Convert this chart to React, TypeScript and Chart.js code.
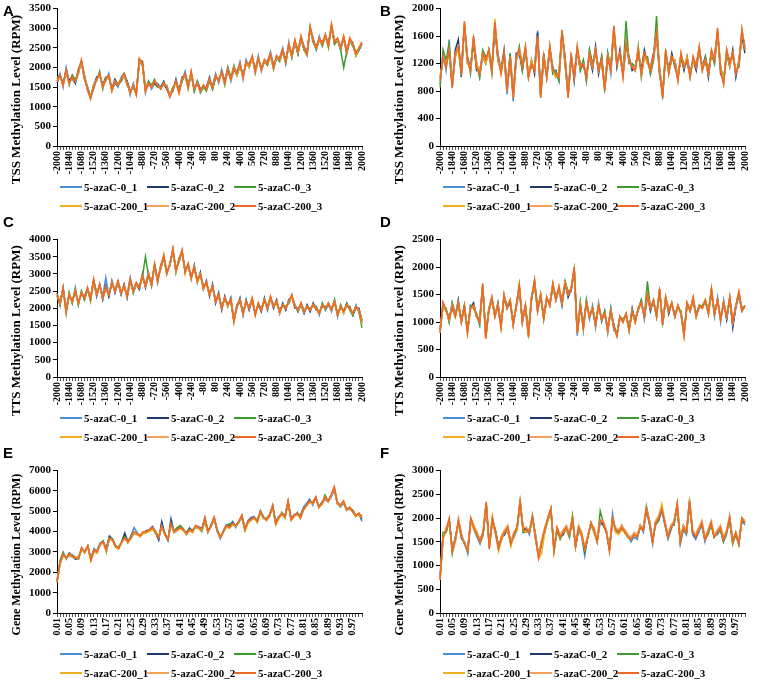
import React, { useEffect, useRef } from "react";
import { Chart, registerables } from "chart.js";

Chart.register(...registerables);

const SERIES_NAMES = ["5-azaC-0_1", "5-azaC-0_2", "5-azaC-0_3", "5-azaC-200_1", "5-azaC-200_2", "5-azaC-200_3"];
const SERIES_COLORS = ["#4A8FD4", "#1F3A70", "#3F9A2E", "#EDB120", "#F5A15A", "#EA6A25"];

const POSITION_LABELS = Array.from({ length: 101 }, (_, i) => String(-2000 + i * 40));
const FRACTION_LABELS = Array.from({ length: 100 }, (_, i) => ((i + 1) / 100).toFixed(2));

// ---------- Panel A: TSS (5-azaC) ----------
const A_0_1 = [1700,1850,1500,2000,1650,1700,1600,1850,2150,1800,
1400,1250,1550,1750,1800,1550,1650,1850,1450,1600,
1500,1750,1850,1650,1300,1600,1350,2200,2150,1350,
1650,1450,1600,1600,1500,1550,1450,1250,1500,1600,
1400,1650,1900,1550,1850,1500,1550,1450,1500,1500,
1650,1550,1850,1600,1950,1650,2000,1650,1950,1900,
2150,1700,2200,2000,2250,1950,2300,1900,2150,2150,
2400,2050,2250,2250,2500,2100,2650,2250,2650,2450,
2750,2550,2400,3000,2750,2450,2800,2550,2800,2600,
3050,2700,2700,2550,2750,2450,2700,2650,2300,2450,
2600];
const A_0_2 = [1600,1800,1600,1900,1650,1800,1600,1950,2150,1700,
1500,1250,1450,1750,1800,1550,1750,1750,1450,1700,
1550,1650,1800,1650,1400,1500,1350,2180,2150,1450,
1550,1550,1600,1500,1500,1650,1450,1300,1400,1700,
1400,1750,1800,1550,1850,1400,1650,1450,1500,1500,
1750,1450,1750,1700,1850,1650,1900,1750,1950,1800,
2050,1800,2100,2100,2250,1950,2200,2000,2150,2150,
2300,2050,2250,2250,2400,2200,2550,2350,2650,2350,
2750,2450,2400,3000,2650,2550,2700,2650,2800,2600,
3050,2600,2700,2450,2750,2350,2700,2550,2400,2450,
2600];
const A_0_3 = [1700,1750,1600,1900,1550,1800,1700,1850,2150,1800,
1500,1250,1550,1650,1900,1450,1750,1750,1450,1600,
1600,1650,1800,1550,1400,1500,1350,2150,2050,1450,
1650,1550,1700,1500,1500,1550,1550,1300,1500,1600,
1400,1650,1800,1450,1850,1400,1650,1350,1500,1400,
1650,1450,1750,1700,1850,1550,2000,1750,2050,1800,
2050,1800,2100,2000,2250,1850,2200,2000,2150,2050,
2300,1950,2250,2150,2400,2100,2550,2250,2650,2350,
2750,2450,2300,3000,2650,2450,2700,2550,2800,2500,
3050,2600,2700,2450,2000,2400,2700,2550,2300,2450,
2600];
const A_200_1 = [1650,1750,1550,1900,1600,1750,1650,1850,2150,1750,
1450,1250,1500,1700,1800,1500,1700,1750,1400,1650,
1550,1700,1800,1600,1350,1550,1300,2150,2100,1400,
1600,1500,1650,1550,1450,1600,1500,1300,1450,1600,
1350,1700,1800,1500,1850,1450,1600,1400,1550,1450,
1700,1500,1800,1650,1850,1600,1900,1700,2000,1800,
2050,1750,2100,2000,2250,1900,2200,1950,2150,2100,
2300,2000,2250,2200,2400,2150,2550,2300,2650,2400,
2750,2500,2350,3000,2700,2500,2700,2600,2800,2550,
3050,2650,2700,2500,2750,2400,2700,2600,2300,2500,
2600];
const A_200_2 = [1650,1800,1550,1900,1600,1750,1650,1900,2150,1750,
1450,1200,1500,1700,1800,1500,1700,1800,1400,1650,
1550,1700,1800,1600,1350,1550,1300,2200,2100,1400,
1600,1500,1650,1550,1450,1600,1500,1250,1450,1650,
1350,1700,1800,1500,1900,1450,1600,1400,1550,1450,
1700,1500,1800,1650,1850,1600,1950,1700,2000,1850,
2100,1750,2150,2050,2250,1900,2250,1950,2200,2100,
2350,2000,2300,2200,2450,2150,2600,2300,2700,2400,
2800,2500,2350,3050,2700,2500,2750,2600,2850,2550,
3100,2650,2750,2500,2800,2400,2750,2600,2350,2500,
2650];
const A_200_3 = [1650,1800,1550,1950,1600,1750,1650,1900,2200,1750,
1450,1200,1500,1700,1850,1500,1700,1800,1400,1650,
1550,1700,1850,1600,1350,1550,1300,2230,2100,1400,
1600,1500,1650,1550,1450,1600,1500,1250,1450,1650,
1350,1700,1850,1500,1900,1450,1600,1400,1550,1450,
1700,1500,1800,1650,1900,1600,1950,1700,2000,1850,
2100,1750,2150,2050,2300,1900,2250,1950,2200,2100,
2350,2000,2300,2200,2450,2150,2600,2300,2700,2400,
2800,2500,2350,3050,2700,2500,2750,2600,2850,2550,
3100,2650,2750,2500,2800,2400,2750,2600,2350,2500,
2650];

// ---------- Panel B: TSS (second set) ----------
const B_0_1 = [900,1350,1100,1550,850,1300,1450,1100,1750,1300,
1150,1550,1200,1000,1300,1300,1350,1150,1700,1250,
1100,1300,750,1350,650,1250,1350,1200,1400,1050,
1150,1150,1680,750,1250,1050,1400,1050,1100,950,
1600,1200,750,1250,1050,1400,1100,1250,950,1400,
1200,1350,1150,1200,850,1350,1050,1650,1250,1300,
1050,1550,1200,1200,1150,1350,1100,1300,1300,1050,
1250,1600,1150,750,1350,1100,1250,1250,1000,1300,
1200,1200,1050,1250,1200,1400,1150,1200,1100,1350,
1200,1650,1150,950,1350,1250,1300,1100,1150,1650,
1450];
const B_0_2 = [1000,1250,1200,1350,900,1400,1550,1000,1750,1200,
1150,1500,1100,1100,1300,1200,1400,1150,1750,1250,
1100,1400,850,1250,750,1350,1350,1100,1400,1000,
1250,1050,1650,750,1350,1000,1400,1150,1000,1050,
1650,1300,750,1350,950,1400,1200,1150,1050,1300,
1100,1450,1050,1300,850,1250,1150,1700,1150,1400,
1050,1450,1300,1100,1150,1350,1100,1400,1200,1150,
1350,1600,1050,750,1350,1100,1350,1150,1000,1300,
1100,1300,1050,1250,1100,1400,1150,1300,1000,1350,
1300,1650,1050,950,1350,1150,1400,1000,1250,1600,
1350];
const B_0_3 = [850,1400,1250,1480,900,1300,1400,1100,1750,1300,
1050,1550,1200,1000,1400,1300,1350,1050,1750,1350,
1100,1300,850,1350,750,1250,1450,1100,1400,1050,
1150,1150,1550,750,1250,1050,1450,1050,1100,950,
1650,1200,750,1250,1050,1400,1100,1250,950,1400,
1200,1350,1100,1300,850,1350,1150,1700,1250,1300,
1050,1820,1200,1200,1100,1450,1000,1300,1300,1050,
1250,1890,1050,750,1350,1100,1250,1250,1000,1300,
1200,1200,1050,1250,1200,1400,1100,1300,1100,1350,
1200,1650,1150,950,1350,1250,1300,1100,1150,1650,
1400];
const B_200_1 = [1000,1250,1200,1350,900,1300,1400,1100,1750,1200,
1150,1550,1200,1100,1300,1200,1350,1150,1850,1250,
1100,1300,850,1250,750,1250,1400,1200,1400,1050,
1250,1100,1550,750,1300,1050,1400,1100,1000,1050,
1600,1250,750,1300,1050,1400,1150,1200,1050,1300,
1150,1400,1100,1200,850,1300,1150,1700,1200,1300,
1050,1500,1250,1150,1150,1400,1050,1300,1200,1150,
1300,1600,1100,750,1400,1050,1300,1250,1000,1350,
1150,1300,1000,1250,1150,1400,1150,1250,1050,1350,
1250,1650,1150,950,1400,1150,1350,1100,1200,1650,
1450];
const B_200_2 = [950,1300,1150,1400,850,1350,1450,1050,1800,1250,
1100,1600,1150,1050,1350,1250,1400,1100,1800,1300,
1050,1350,800,1300,700,1300,1400,1150,1450,1000,
1200,1100,1600,700,1300,1000,1450,1100,1050,1000,
1650,1250,700,1300,1000,1450,1150,1200,1000,1350,
1150,1400,1100,1250,800,1300,1100,1750,1200,1350,
1000,1500,1250,1150,1100,1400,1050,1350,1250,1100,
1300,1650,1100,700,1400,1050,1300,1200,950,1350,
1150,1250,1000,1300,1150,1450,1100,1250,1050,1400,
1250,1700,1100,900,1400,1200,1350,1050,1200,1700,
1400];
const B_200_3 = [950,1300,1150,1400,850,1350,1450,1050,1820,1250,
1100,1600,1150,1050,1350,1250,1400,1100,1800,1300,
1050,1350,800,1300,700,1300,1400,1150,1450,1000,
1200,1100,1600,700,1300,1000,1450,1100,1050,1000,
1690,1250,700,1300,1000,1450,1150,1200,1000,1350,
1150,1400,1100,1250,800,1300,1100,1750,1200,1350,
1000,1500,1250,1150,1100,1400,1050,1350,1250,1100,
1300,1650,1100,700,1400,1050,1300,1200,950,1350,
1150,1250,1000,1300,1150,1450,1100,1250,1050,1400,
1250,1720,1100,900,1400,1200,1350,1050,1200,1700,
1400];

// ---------- Panel C: TTS (5-azaC) ----------
const C_0_1 = [2350,2200,2550,2000,2450,2150,2600,2100,2500,2250,
2550,2300,2800,2450,2650,2350,2900,2350,2700,2550,
2750,2500,2600,2400,2900,2450,2700,2650,2900,2700,
3050,2650,3250,2850,3150,3500,3050,3250,3700,3150,
3350,3650,3100,3250,2950,3150,2850,2950,2650,2700,
2450,2600,2250,2350,2050,2250,2150,2200,1650,2050,
2200,1900,2150,2050,2250,1850,2100,2000,2200,2050,
2300,2100,2150,1950,2050,2050,2150,2350,2100,1900,
2100,1950,2000,2000,2050,2050,1800,2150,1950,2100,
1900,2250,1750,2100,1850,2150,1950,1800,2100,1900,
1550];
const C_0_2 = [2450,2100,2600,1950,2350,2250,2450,2200,2400,2350,
2550,2300,2800,2350,2700,2250,2650,2350,2800,2450,
2750,2400,2700,2300,2800,2550,2700,2550,3000,2600,
2950,2750,3250,2750,3250,3500,3050,3250,3700,3050,
3450,3650,3100,3250,2850,3250,2750,3050,2550,2800,
2350,2700,2150,2450,1950,2350,2050,2300,1650,2050,
2300,1800,2250,1950,2250,1850,2100,1900,2300,1950,
2300,2000,2250,1850,2150,1950,2250,2350,2000,2000,
2100,1850,2100,1900,2150,1950,1900,2050,2050,2100,
2000,2150,1850,2000,1950,2050,2050,1800,2000,2000,
1650];
const C_0_3 = [2350,2100,2550,1850,2450,2150,2550,2100,2500,2250,
2550,2200,2800,2450,2650,2350,2550,2450,2700,2550,
2750,2500,2600,2400,2800,2450,2700,2650,2900,3500,
2950,2650,3250,2850,3150,3450,3050,3250,3650,3150,
3350,3650,3100,3250,2950,3150,2850,2950,2650,2700,
2450,2600,2250,2350,2050,2250,2150,2200,1650,2050,
2200,1900,2150,2050,2250,1850,2100,2000,2250,2050,
2300,2100,2150,1950,2100,2050,2150,2350,2100,1900,
2150,1950,2000,2000,2100,2050,1850,2150,1950,2150,
1950,2250,1800,2100,1900,2150,1950,1800,2050,1900,
1430];
const C_200_1 = [2400,2150,2550,1950,2400,2200,2500,2150,2450,2300,
2600,2250,2800,2400,2650,2300,2600,2400,2750,2500,
2750,2450,2650,2350,2800,2500,2700,2600,2900,2650,
3000,2700,3250,2800,3150,3500,3000,3250,3700,3050,
3400,3650,3000,3300,2850,3200,2750,3000,2550,2750,
2400,2600,2200,2350,2000,2300,2050,2250,1600,2100,
2250,1850,2200,2000,2250,1800,2150,1950,2250,2000,
2300,2050,2200,1850,2100,2000,2200,2350,2050,1950,
2150,1900,2050,1950,2100,2000,1850,2100,2000,2150,
1950,2200,1800,2050,1850,2100,2000,1850,2050,1950,
1550];
const C_200_2 = [2400,2150,2600,1900,2400,2200,2500,2150,2450,2300,
2600,2250,2850,2400,2700,2300,2600,2400,2750,2500,
2800,2450,2650,2350,2850,2500,2750,2600,2950,2650,
3000,2700,3300,2800,3200,3550,3000,3300,3700,3100,
3400,3700,3050,3300,2900,3200,2800,3000,2600,2750,
2400,2650,2200,2400,2000,2300,2100,2250,1650,2100,
2250,1850,2200,2000,2300,1800,2150,1950,2250,2000,
2350,2050,2200,1900,2100,2000,2200,2400,2050,1950,
2150,1900,2050,1950,2100,2000,1850,2100,2000,2150,
1950,2200,1800,2050,1900,2100,2000,1850,2050,1950,
1650];
const C_200_3 = [2400,2150,2600,1900,2400,2200,2500,2150,2450,2300,
2600,2250,2850,2400,2700,2300,2600,2400,2750,2500,
2800,2450,2650,2350,2850,2500,2750,2600,2950,2650,
3000,2700,3300,2800,3200,3550,3000,3300,3750,3100,
3400,3700,3050,3300,2900,3200,2800,3000,2600,2750,
2400,2650,2200,2400,2000,2300,2100,2250,1600,2100,
2250,1850,2200,2000,2300,1800,2150,1950,2250,2000,
2350,2050,2200,1900,2100,2000,2200,2400,2050,1950,
2150,1900,2050,1950,2100,2000,1850,2100,2000,2150,
1950,2200,1800,2050,1900,2100,2000,1850,2050,1950,
1600];

// ---------- Panel D: TTS (second set) ----------
const D_0_1 = [850,1300,1250,1000,1350,1150,1300,1050,1250,850,
1300,1250,1150,950,1650,750,1250,1400,1150,1250,
950,1450,1300,1350,1000,1250,1600,1050,1250,750,
1400,1700,1250,1450,1100,1400,1350,1650,1450,1600,
1400,1650,1550,1550,1950,750,1350,850,1400,1050,
1300,900,1350,1000,1200,800,1250,850,800,1050,
1050,1100,900,1150,1050,1200,1400,1050,1450,1300,
1350,1150,1550,1000,1400,1250,1300,1150,1250,1200,
800,1300,1250,1400,1150,1250,1300,1350,1200,1550,
1100,1450,1000,1400,1050,1400,950,1250,1500,1250,
1250];
const D_0_2 = [850,1350,1200,1100,1250,1100,1400,1000,1300,850,
1250,1350,1100,1050,1650,750,1200,1400,1100,1350,
950,1450,1250,1350,950,1300,1650,1000,1300,800,
1450,1700,1200,1500,1100,1450,1300,1650,1400,1600,
1300,1700,1450,1600,1950,800,1300,950,1350,1100,
1250,1000,1300,1050,1150,900,1200,950,750,1100,
1000,1150,850,1250,1000,1250,1350,1100,1500,1200,
1400,1100,1600,950,1450,1150,1350,1100,1300,1150,
800,1350,1200,1400,1100,1300,1250,1400,1150,1550,
1150,1400,1050,1350,1050,1450,900,1300,1500,1200,
1300];
const D_0_3 = [850,1300,1250,1000,1350,1150,1300,1050,1300,850,
1300,1250,1150,950,1650,750,1250,1450,1150,1300,
950,1450,1300,1400,1000,1300,1600,1050,1300,800,
1400,1770,1250,1450,1100,1400,1350,1700,1450,1600,
1400,1750,1550,1600,1950,800,1350,900,1400,1100,
1250,950,1300,1050,1200,850,1250,900,800,1100,
1050,1150,900,1200,1050,1250,1400,1100,1740,1250,
1350,1150,1550,1000,1400,1250,1300,1150,1250,1200,
800,1300,1250,1400,1150,1300,1300,1400,1200,1600,
1150,1400,1050,1350,1100,1400,1000,1300,1500,1250,
1300];
const D_200_1 = [800,1300,1200,1050,1300,1100,1350,1000,1250,800,
1250,1300,1100,1000,1650,700,1200,1400,1100,1300,
900,1500,1250,1400,950,1300,1650,1000,1300,750,
1450,1700,1200,1500,1050,1450,1300,1650,1400,1600,
1350,1700,1500,1600,1950,800,1300,900,1350,1100,
1250,950,1300,1050,1150,850,1200,900,750,1100,
1000,1150,850,1200,1000,1250,1350,1100,1500,1250,
1400,1100,1600,950,1450,1200,1350,1100,1300,1150,
750,1350,1200,1450,1100,1300,1250,1400,1150,1600,
1150,1400,1050,1350,1100,1450,1000,1300,1550,1200,
1300];
const D_200_2 = [800,1350,1200,1050,1300,1100,1350,1000,1300,800,
1250,1300,1100,1000,1700,700,1200,1450,1100,1300,
900,1500,1250,1400,950,1300,1680,1000,1300,725,
1450,1750,1200,1500,1050,1450,1300,1700,1400,1650,
1350,1700,1500,1600,2000,800,1300,900,1350,1100,
1250,950,1300,1050,1150,850,1200,900,750,1100,
1000,1150,850,1200,1000,1250,1350,1100,1500,1250,
1400,1100,1600,950,1450,1200,1350,1100,1300,1150,
750,1350,1200,1450,1100,1300,1250,1400,1150,1600,
1150,1400,1050,1350,1100,1450,1000,1300,1550,1200,
1300];
const D_200_3 = [800,1350,1200,1050,1300,1100,1350,1000,1300,800,
1250,1300,1100,1000,1700,700,1200,1450,1100,1300,
900,1500,1250,1400,950,1300,1680,1000,1300,725,
1450,1750,1200,1500,1050,1450,1300,1700,1400,1650,
1350,1700,1500,1600,2000,800,1300,900,1350,1100,
1250,950,1300,1050,1150,850,1200,900,750,1100,
1000,1150,850,1200,1000,1250,1350,1100,1500,1250,
1400,1100,1600,950,1450,1200,1350,1100,1300,1150,
750,1350,1200,1450,1100,1300,1250,1400,1150,1600,
1150,1400,1050,1350,1100,1450,1000,1300,1550,1200,
1300];

// ---------- Panel E: Gene body (5-azaC) ----------
const E_0_1 = [1500,2400,2800,2750,2800,2750,2650,2800,3100,3050,
3300,2700,3050,3100,3450,3500,3200,3800,3650,3300,
3200,3450,3950,3500,3800,4200,3950,3750,3950,4000,
4050,4200,3950,3600,4500,3900,3550,4650,3950,4050,
4200,4100,3900,4200,4000,4300,4250,4100,4600,4000,
4350,4650,4000,3650,4050,4350,4300,4500,4200,4500,
4750,4100,4550,4700,4750,4450,5050,4750,4550,4750,
5250,4500,4750,4900,4800,5450,4650,4850,4900,4800,
5200,5400,5600,5300,5650,5250,5350,5600,5450,5700,
6100,5350,5200,5400,5100,5100,5000,4750,4900,4500];
const E_0_2 = [1600,2500,2850,2700,2950,2800,2650,2700,3150,3000,
3250,2650,3150,3000,3350,3500,3100,3750,3600,3250,
3150,3500,3900,3450,3700,3950,3900,3800,3950,4050,
4100,4250,4000,3600,4450,3850,3600,4550,4000,4150,
4250,4050,3950,4150,4050,4250,4200,4150,4650,4050,
4300,4700,4050,3700,4000,4300,4250,4450,4300,4450,
4800,4150,4500,4650,4700,4500,4950,4700,4600,4800,
5250,4400,4700,4850,4750,5450,4600,4800,4850,4750,
5100,5300,5550,5350,5650,5200,5450,5650,5500,5750,
6100,5400,5250,5450,5050,5150,5050,4800,4850,4600];
const E_0_3 = [1500,2600,3000,2650,2900,2850,2750,2650,3200,2950,
3300,2600,3100,2950,3400,3550,3000,3650,3650,3300,
3250,3500,3750,3550,3700,3950,3850,3850,3950,3950,
4050,4150,3900,3750,4250,3950,3600,4350,4050,4200,
4300,4150,3850,4050,4100,4200,4150,4000,4500,3950,
4250,4600,4100,3750,4000,4250,4400,4350,4250,4450,
4700,4050,4450,4600,4650,4600,4900,4650,4650,4850,
5250,4350,4650,4950,4700,5400,4550,4750,4950,4650,
5050,5300,5500,5450,5700,5200,5350,5800,5500,5800,
6150,5450,5300,5500,5100,5200,4950,4750,4850,4800];
const E_200_1 = [1500,2450,2800,2700,2850,2750,2700,2700,3150,2950,
3250,2550,3000,2950,3350,3450,3050,3650,3550,3250,
3150,3450,3650,3450,3650,3900,3850,3750,3900,3950,
4000,4100,3950,3750,4200,3850,3650,4300,3950,4050,
4150,4050,3850,4050,3950,4250,4150,4050,4600,4000,
4250,4650,4100,3700,3950,4250,4150,4350,4250,4450,
4750,4050,4400,4550,4650,4450,4950,4650,4550,4750,
5250,4350,4650,4850,4650,5450,4550,4750,4850,4650,
5050,5250,5450,5350,5650,5150,5350,5650,5450,5750,
6150,5350,5250,5450,5050,5150,4950,4750,4850,4650];
const E_200_2 = [1550,2500,2850,2700,2900,2800,2700,2750,3200,3000,
3300,2600,3100,3000,3400,3450,3100,3650,3600,3300,
3200,3500,3650,3500,3700,3950,3900,3800,4000,4000,
4100,4200,4000,3700,4250,3900,3600,4350,4000,4100,
4200,4100,3900,4100,4000,4300,4200,4100,4650,4000,
4300,4700,4100,3700,4000,4300,4200,4400,4300,4500,
4800,4100,4500,4600,4700,4500,5000,4700,4600,4800,
5300,4400,4700,4900,4700,5500,4600,4800,4900,4700,
5100,5300,5500,5400,5700,5200,5400,5700,5500,5800,
6200,5400,5300,5500,5100,5200,5000,4800,4900,4700];
const E_200_3 = [1500,2500,2900,2700,2900,2800,2700,2700,3200,3000,
3300,2600,3100,3000,3400,3500,3100,3700,3600,3300,
3200,3500,3700,3500,3700,4000,3900,3800,4000,4000,
4100,4200,4000,3700,4300,3900,3600,4400,4000,4100,
4200,4100,3900,4100,4000,4300,4200,4100,4700,4000,
4300,4700,4100,3700,4000,4300,4200,4400,4300,4500,
4800,4100,4500,4600,4700,4500,5000,4700,4600,4800,
5300,4400,4700,4900,4700,5500,4600,4800,4900,4700,
5100,5300,5500,5400,5700,5200,5400,5700,5500,5800,
6200,5400,5300,5500,5100,5200,5000,4800,4900,4700];

// ---------- Panel F: Gene body (second set) ----------
const F_0_1 = [700,1650,1700,1950,1350,1600,1900,1550,1500,1250,
1950,1750,1600,1450,1650,2250,1450,1950,1750,1400,
1550,1750,1700,1500,1600,1750,2300,1700,1800,1650,
2050,1550,1200,1450,1800,1950,2150,1350,1700,1650,
1750,1750,1600,1950,1450,1750,1600,1200,1650,1850,
1700,1550,1900,1850,1750,1350,2100,1700,1750,1750,
1750,1650,1500,1600,1550,1850,1700,2150,1850,1450,
1950,1950,2150,1850,1550,1750,1950,2250,1450,1750,
1650,2300,1650,1550,1700,1850,1500,1750,1850,1650,
1650,1750,1500,1650,2050,1550,1650,1500,1950,1850];
const F_0_2 = [750,1600,1750,1950,1300,1550,1950,1650,1450,1350,
1950,1800,1650,1550,1700,2300,1400,1950,1700,1400,
1600,1650,1800,1450,1700,1800,2300,1800,1750,1700,
2000,1650,1200,1500,1700,2000,2200,1350,1750,1600,
1650,1800,1650,2000,1400,1800,1650,1300,1600,1900,
1750,1500,1950,1850,1700,1350,1950,1750,1700,1800,
1700,1600,1550,1650,1600,1800,1750,2200,1900,1500,
1900,2000,2200,1900,1600,1800,1900,2250,1500,1800,
1700,2300,1700,1600,1750,1900,1550,1700,1900,1600,
1700,1800,1550,1700,1950,1500,1650,1450,1950,1900];
const F_0_3 = [700,1700,1700,1950,1250,1600,1900,1600,1450,1300,
1950,1800,1700,1500,1650,2300,1400,1950,1750,1400,
1550,1750,1750,1500,1650,1750,2400,1700,1700,1700,
2000,1600,1200,1450,1750,1950,2150,1300,1750,1550,
1700,1800,1600,2050,1400,1750,1650,1300,1600,1900,
1700,1500,2150,1900,1700,1350,1950,1750,1700,1850,
1700,1600,1550,1650,1600,1850,1800,2250,1950,1550,
1850,1950,2200,1900,1600,1850,1850,2300,1550,1850,
1700,2400,1700,1650,1800,1850,1550,1650,1850,1600,
1700,1750,1500,1700,1950,1450,1650,1450,2000,1900];
const F_200_1 = [700,1550,1750,1950,1300,1500,1900,1650,1450,1350,
1950,1750,1650,1500,1700,2300,1350,1950,1650,1300,
1550,1700,1750,1400,1650,1750,2350,1750,1700,1700,
2000,1550,1150,1250,1700,1950,2200,1300,1800,1600,
1700,1750,1650,2000,1400,1800,1600,1350,1600,1900,
1700,1500,1950,1900,1750,1300,1950,1700,1650,1750,
1700,1600,1550,1650,1600,1800,1750,2200,1900,1500,
1900,2050,2300,1900,1600,1800,1900,2300,1500,1800,
1700,2300,1700,1650,1750,1900,1550,1700,1900,1650,
1700,1800,1550,1700,2000,1500,1700,1450,2000,1900];
const F_200_2 = [700,1600,1800,1950,1350,1550,2000,1650,1450,1350,
2000,1850,1700,1550,1700,2300,1400,2050,1700,1350,
1650,1750,1850,1500,1700,1800,2300,1800,1800,1750,
2000,1650,1200,1550,1800,2000,2150,1350,1800,1650,
1750,1850,1700,2000,1450,1850,1700,1400,1650,1900,
1800,1550,1950,1950,1750,1350,2000,1800,1750,1850,
1750,1650,1600,1700,1650,1850,1800,2200,1950,1550,
1950,2050,2200,1950,1650,1850,1950,2300,1550,1850,
1750,2350,1750,1650,1800,1950,1600,1750,1950,1650,
1750,1850,1600,1750,2050,1550,1700,1500,2000,1950];
const F_200_3 = [700,1600,1750,2000,1300,1550,1950,1600,1450,1300,
2000,1800,1650,1500,1700,2350,1350,2000,1700,1350,
1600,1700,1800,1450,1650,1800,2350,1750,1750,1700,
2050,1600,1150,1500,1750,2000,2200,1300,1800,1600,
1700,1800,1650,2000,1400,1800,1650,1350,1600,1900,
1750,1500,1950,1900,1700,1300,2000,1750,1700,1800,
1700,1600,1550,1650,1600,1800,1750,2200,1900,1500,
1900,2000,2200,1900,1600,1800,1900,2300,1500,1800,
1700,2350,1700,1600,1750,1900,1550,1700,1900,1600,
1700,1800,1550,1700,2000,1500,1700,1450,2000,1900];

type PanelDef = {
  letter: string;
  title: string;
  labels: string[];
  series: number[][];
  max: number;
  step: number;
  left: number;
  top: number;
  plotH: number;
  padRight: number;
  titleSize: number;
  titleOffset: number;
};

const SERIF = "'Times New Roman', 'Liberation Serif', 'DejaVu Serif', serif";

const PANELS: PanelDef[] = [
  { letter: "A", title: "TSS Methylation Level (RPM)", labels: POSITION_LABELS, series: [A_0_1, A_0_2, A_0_3, A_200_1, A_200_2, A_200_3], max: 3500, step: 500, left: 0, top: 0, plotH: 140, padRight: 7, titleSize: 13, titleOffset: 91 },
  { letter: "B", title: "TSS Methylation Level (RPM)", labels: POSITION_LABELS, series: [B_0_1, B_0_2, B_0_3, B_200_1, B_200_2, B_200_3], max: 2000, step: 200, left: 383, top: 0, plotH: 140, padRight: 5, titleSize: 13, titleOffset: 91 },
  { letter: "C", title: "TTS Methylation Level (RPM)", labels: POSITION_LABELS, series: [C_0_1, C_0_2, C_0_3, C_200_1, C_200_2, C_200_3], max: 4000, step: 500, left: 0, top: 231, plotH: 140, padRight: 7, titleSize: 13, titleOffset: 91 },
  { letter: "D", title: "TTS Methylation Level (RPM)", labels: POSITION_LABELS, series: [D_0_1, D_0_2, D_0_3, D_200_1, D_200_2, D_200_3], max: 2500, step: 500, left: 383, top: 231, plotH: 140, padRight: 5, titleSize: 13, titleOffset: 91 },
  { letter: "E", title: "Gene Methylation Level (RPM)", labels: FRACTION_LABELS, series: [E_0_1, E_0_2, E_0_3, E_200_1, E_200_2, E_200_3], max: 7000, step: 1000, left: 0, top: 462, plotH: 145, padRight: 7, titleSize: 12, titleOffset: 84 },
  { letter: "F", title: "Gene Methylation Level (RPM)", labels: FRACTION_LABELS, series: [F_0_1, F_0_2, F_0_3, F_200_1, F_200_2, F_200_3], max: 3000, step: 500, left: 383, top: 462, plotH: 145, padRight: 5, titleSize: 12, titleOffset: 84 },
];

const CANVAS_W = 375;
const TOP_PAD = 6;
const X_AXIS_H = 44;
const Y_AXIS_W = 57;

function Panel({ def }: { def: PanelDef }) {
  const ref = useRef<HTMLCanvasElement | null>(null);
  const canvasH = TOP_PAD + def.plotH + X_AXIS_H;

  useEffect(() => {
    if (!ref.current) return;
    const titlePlugin = {
      id: "yTitle" + def.letter,
      afterDraw(chart: any) {
        const ctx = chart.ctx;
        const ca = chart.chartArea;
        ctx.save();
        ctx.translate(17, ca.top + def.titleOffset);
        ctx.rotate(-Math.PI / 2);
        ctx.font = `bold ${def.titleSize}px ${SERIF}`;
        ctx.fillStyle = "#000";
        ctx.textAlign = "center";
        ctx.textBaseline = "middle";
        ctx.fillText(def.title, 0, 0);
        ctx.restore();
      },
    };
    const chart = new Chart(ref.current, {
      type: "line",
      data: {
        labels: def.labels,
        datasets: def.series.map((s, i) => ({
          label: SERIES_NAMES[i],
          data: s,
          borderColor: SERIES_COLORS[i],
          backgroundColor: SERIES_COLORS[i],
          borderWidth: 1.5,
          pointRadius: 0,
          tension: 0,
          order: 5 - i,
        })),
      },
      options: {
        responsive: false,
        animation: false,
        events: [],
        layout: { padding: { top: TOP_PAD, right: def.padRight, left: 0, bottom: 0 } },
        plugins: { legend: { display: false }, tooltip: { enabled: false } },
        scales: {
          x: {
            type: "category",
            offset: false,
            afterFit: (s: any) => { s.height = X_AXIS_H; },
            grid: { display: true, drawOnChartArea: false, drawTicks: true, tickLength: 4, color: "#555" },
            border: { display: true, color: "#000", width: 1 },
            ticks: {
              autoSkip: false,
              maxRotation: 90,
              minRotation: 90,
              padding: 1,
              color: "#000",
              font: { family: SERIF, size: 10, weight: "bold" },
              callback: (_v: any, i: number) => (i % 4 === 0 ? def.labels[i] : ""),
            },
          },
          y: {
            min: 0,
            max: def.max,
            afterFit: (s: any) => { s.width = Y_AXIS_W; },
            grid: { display: true, drawOnChartArea: false, drawTicks: true, tickLength: 4, color: "#000" },
            border: { display: true, color: "#000", width: 1 },
            ticks: {
              stepSize: def.step,
              padding: 2,
              color: "#000",
              font: { family: SERIF, size: 11, weight: "bold" },
              callback: (v: any) => String(v),
            },
          },
        },
      } as any,
      plugins: [titlePlugin],
    });
    return () => chart.destroy();
  }, [def]);

  const legendCols = [60, 147, 234];
  const legendRows = [def.plotH + 47, def.plotH + 66];

  return (
    <div style={{ position: "absolute", left: def.left, top: def.top, width: CANVAS_W, height: canvasH + 80 }}>
      <canvas ref={ref} width={CANVAS_W} height={canvasH} style={{ position: "absolute", left: 0, top: 0, width: CANVAS_W, height: canvasH }} />
      {SERIES_NAMES.map((name, i) => {
        const col = i % 3;
        const row = Math.floor(i / 3);
        return (
          <div
            key={name}
            style={{
              position: "absolute",
              left: legendCols[col],
              top: legendRows[row] - 7,
              height: 14,
              display: "flex",
              alignItems: "center",
              whiteSpace: "nowrap",
              font: `bold 11px ${SERIF}`,
              color: "#000",
            }}
          >
            <span style={{ display: "inline-block", width: 22, height: 2, background: SERIES_COLORS[i], marginRight: 2 }} />
            <span>{name}</span>
          </div>
        );
      })}
    </div>
  );
}

const LETTERS = [
  { t: "A", x: 3, y: 3 },
  { t: "B", x: 380, y: 3 },
  { t: "C", x: 3, y: 214 },
  { t: "D", x: 380, y: 214 },
  { t: "E", x: 3, y: 445 },
  { t: "F", x: 380, y: 445 },
];

export default function App() {
  return (
    <div style={{ position: "absolute", left: 0, top: 0, width: 758, height: 680, background: "#fff", overflow: "hidden" }}>
      {PANELS.map((p) => (
        <Panel key={p.letter} def={p} />
      ))}
      {LETTERS.map((l) => (
        <div
          key={l.t}
          style={{
            position: "absolute",
            left: l.x,
            top: l.y,
            font: "bold 15px 'Liberation Sans', Arial, sans-serif",
            lineHeight: "15px",
            color: "#000",
          }}
        >
          {l.t}
        </div>
      ))}
    </div>
  );
}
